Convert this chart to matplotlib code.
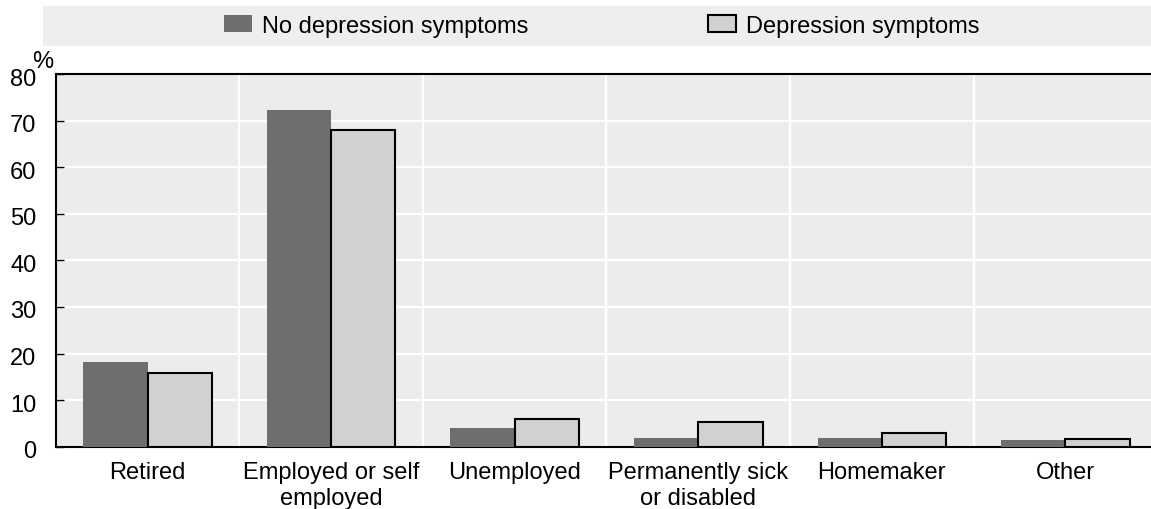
import numpy as np
import matplotlib.pyplot as plt
from matplotlib.patches import Rectangle
from matplotlib.transforms import ScaledTranslation

plt.rcParams['font.family'] = ['Liberation Sans', 'DejaVu Sans']

# Kategorien und Werte (Anteil in %)
kategorien = ['Retired', 'Employed or self\nemployed', 'Unemployed',
              'Permanently sick\nor disabled', 'Homemaker', 'Other']
keine_depression = [18.1, 72.3, 4.0, 1.9, 1.9, 1.4]
depression = [15.8, 67.9, 5.9, 5.2, 3.0, 1.7]
serien_namen = ['No depression symptoms', 'Depression symptoms']
y_ticks = [0, 10, 20, 30, 40, 50, 60, 70, 80]

fig = plt.figure(figsize=(11.51, 5.10), dpi=100)
ax = fig.add_axes([0.0484, 0.1222, 0.957, 0.7307])
ax.set_facecolor('#ececec')

x = np.arange(len(kategorien))
breite = 0.35
b1 = ax.bar(x - breite / 2, keine_depression, breite, color='#6e6e6e',
            edgecolor='none', zorder=3, label=serien_namen[0])
b2 = ax.bar(x + breite / 2, depression, breite, color='#d1d1d1',
            edgecolor='black', linewidth=1.5, zorder=3, label=serien_namen[1])

ax.set_xlim(-0.5, len(kategorien) - 0.5)
ax.set_ylim(0, 80)
ax.set_yticks(y_ticks)
ax.set_xticks(x)
ax.set_xticklabels(kategorien, fontsize=17, linespacing=1.22)
ax.set_xticks(np.arange(0.5, len(kategorien) - 0.5), minor=True)

# Gitter weiss, vertikale Linien zwischen den Kategorien
ax.grid(axis='y', color='white', linewidth=1.6, zorder=1)
ax.grid(axis='x', which='minor', color='white', linewidth=1.6, zorder=1)
ax.set_axisbelow(True)

ax.tick_params(axis='y', direction='in', length=6, width=1, labelsize=17, pad=14)
ax.tick_params(axis='x', which='both', length=0, pad=10.5)

# Y-Beschriftungen etwas nach unten versetzen
versatz = ScaledTranslation(0, -2 / 100, fig.dpi_scale_trans)
for lbl in ax.get_yticklabels():
    lbl.set_transform(lbl.get_transform() + versatz)

for seite in ['left', 'bottom', 'top']:
    ax.spines[seite].set_linewidth(1.5)
    ax.spines[seite].set_color('black')
ax.spines['right'].set_visible(False)

fig.text(42.5 / 1151, 1 - 62 / 510, '%', fontsize=17, ha='center', va='center')

# Legende mit grauem Hintergrund oben
fig.patches.append(Rectangle((43 / 1151, 1 - 47 / 510), 1.0, 40 / 510,
                             transform=fig.transFigure, facecolor='#eeeeee',
                             edgecolor='none', zorder=0))
fig.legend(handles=[b1, b2], loc='center', bbox_to_anchor=(601.5 / 1151, 1 - 27 / 510),
           ncol=2, frameon=False, fontsize=17, handlelength=1.2, handleheight=0.7,
           handletextpad=0.42, columnspacing=7.6, borderaxespad=0)

plt.savefig('out.png', dpi=100)
